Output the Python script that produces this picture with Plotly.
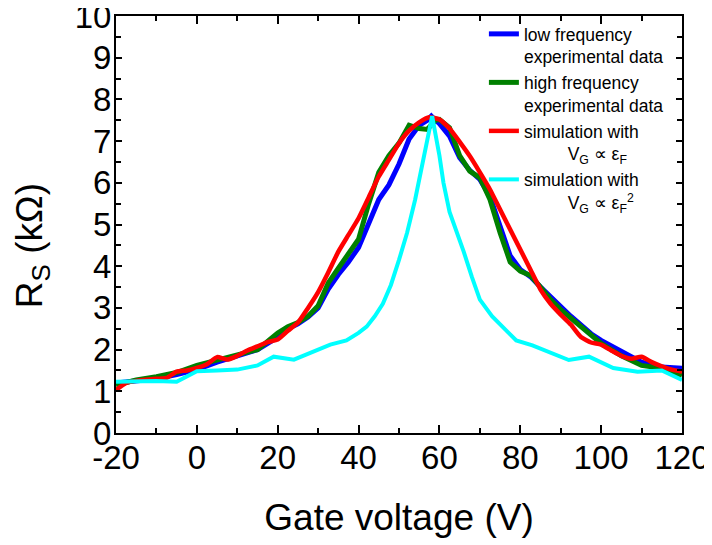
import plotly.graph_objects as go

# experimental data (low / high frequency), gate voltage in V, Rs in kOhm
v_exp = [-20, -15, -10, -5, 0, 5, 10, 15, 20, 22.5, 25, 27.5, 30, 32.5, 35,
         37.5, 40, 42.5, 45, 47.5, 50, 52.5, 55, 57, 58, 59, 60, 62.5, 65,
         67.5, 70, 72.5, 75, 77.5, 80, 82.5, 85, 87.5, 90, 92.5, 95, 97.5,
         100, 105, 110, 115, 120]
rs_low = [1.2, 1.25, 1.3, 1.4, 1.52, 1.7, 1.85, 2.0, 2.3, 2.5, 2.62, 2.78,
          3.0, 3.45, 3.8, 4.1, 4.45, 5.0, 5.6, 5.95, 6.45, 7.05, 7.38, 7.5,
          7.6, 7.5, 7.42, 7.12, 6.6, 6.3, 6.08, 5.67, 4.95, 4.25, 3.92, 3.75,
          3.5, 3.25, 3.03, 2.8, 2.6, 2.38, 2.22, 1.95, 1.7, 1.58, 1.55]
rs_high = [1.15, 1.27, 1.35, 1.45, 1.62, 1.75, 1.88, 2.0, 2.4, 2.55, 2.65,
           2.8, 3.05, 3.6, 3.95, 4.3, 4.65, 5.5, 6.25, 6.65, 6.95, 7.38, 7.3,
           7.28, 7.4, 7.5, 7.52, 7.32, 6.65, 6.28, 6.12, 5.6, 4.8, 4.1, 3.88,
           3.78, 3.5, 3.2, 2.96, 2.75, 2.55, 2.33, 2.15, 1.85, 1.62, 1.55, 1.38]

# simulation, V_G proportional to eps_F
v_sim1 = [-20, -17.5, -15, -10, -7.5, -5, -2.5, 0, 2.5, 5, 7.5, 10, 12.5, 15,
          17.5, 20, 22.5, 25, 27.5, 30, 32.5, 35, 37.5, 40, 42.5, 45, 47.5,
          50, 52.5, 55, 57.5, 60, 62.5, 65, 67.5, 70, 72.5, 75, 77.5, 80,
          82.5, 85, 87.5, 90, 92.5, 95, 97.5, 100, 102.5, 105, 107.5, 110,
          112.5, 115, 117.5, 120]
rs_sim1 = [1.03, 1.2, 1.25, 1.3, 1.32, 1.47, 1.5, 1.56, 1.65, 1.82, 1.76,
           1.85, 1.98, 2.08, 2.18, 2.24, 2.45, 2.65, 3.0, 3.38, 3.85, 4.35,
           4.75, 5.15, 5.65, 6.15, 6.55, 6.95, 7.25, 7.45, 7.57, 7.52, 7.3,
           6.98, 6.64, 6.25, 5.84, 5.36, 4.88, 4.4, 3.92, 3.44, 3.1, 2.84,
           2.6, 2.3, 2.17, 2.12, 1.98, 1.85, 1.78, 1.83, 1.7, 1.6, 1.52, 1.47]

# simulation, V_G proportional to eps_F^2
v_sim2 = [-20, -15, -10, -5, 0, 5, 10, 15, 19, 24, 28.5, 33, 37, 40, 42, 44,
          46, 48, 50, 52, 54, 56, 58.2, 60, 61, 62.5, 64, 66, 68, 70, 73, 76,
          79, 83, 87, 92, 97, 103, 109, 115, 120]
rs_sim2 = [1.23, 1.25, 1.25, 1.23, 1.48, 1.5, 1.52, 1.62, 1.83, 1.76, 1.95,
           2.12, 2.22, 2.4, 2.55, 2.8, 3.1, 3.55, 4.15, 4.8, 5.6, 6.6, 7.6,
           6.65, 6.0, 5.3, 4.9, 4.35, 3.75, 3.2, 2.8, 2.5, 2.22, 2.1, 1.95,
           1.75, 1.83, 1.56, 1.47, 1.5, 1.27]

x_ticks = [-20, 0, 20, 40, 60, 80, 100, 120]
x_ticktext = ['-20', '0', '20', '40', '60', '80', '100', '120']

FONT = 'Liberation Sans, Arial, sans-serif'
ind = '\u00a0' * 9

fig = go.Figure()
fig.add_trace(go.Scatter(x=v_exp, y=rs_low, mode='lines',
                         name='low frequency<br>experimental data',
                         line=dict(color='#0000ff', width=5)))
fig.add_trace(go.Scatter(x=v_exp, y=rs_high, mode='lines',
                         name='high frequency<br>experimental data',
                         line=dict(color='#008000', width=5)))
fig.add_trace(go.Scatter(x=v_sim1, y=rs_sim1, mode='lines',
                         name='simulation with<br>' + ind + 'V<sub>G</sub> \u221d \u03b5<sub>F</sub>',
                         line=dict(color='#ff0000', width=4.5, shape='spline', smoothing=0.5)))
fig.add_trace(go.Scatter(x=v_sim2, y=rs_sim2, mode='lines',
                         name='simulation with<br>' + ind + 'V<sub>G</sub> \u221d \u03b5<sub>F</sub><sup>2</sup>',
                         line=dict(color='#00ffff', width=4)))

axis_common = dict(showline=True, linecolor='black', linewidth=2,
                   mirror='ticks', ticks='inside', tickcolor='black',
                   tickwidth=2, showgrid=False, zeroline=False,
                   ticklabeloverflow='allow', automargin=False,
                   tickfont=dict(family=FONT, size=33, color='black'))

fig.update_xaxes(range=[-20, 120], tickvals=x_ticks, ticktext=x_ticktext,
                 ticklen=8, ticklabelstandoff=-6,
                 minor=dict(dtick=10, tick0=0, ticks='inside', ticklen=5,
                            tickcolor='black', tickwidth=2),
                 title=dict(text='Gate voltage (V)', standoff=30,
                            font=dict(family=FONT, size=37, color='black')),
                 **axis_common)
fig.update_yaxes(range=[0, 10], dtick=1, ticklen=6, ticklabelstandoff=-4,
                 minor=dict(dtick=0.5, ticks='inside', ticklen=5,
                            tickcolor='black', tickwidth=2),
                 **axis_common)

# y title sits a bit below the middle of the axis in the original
fig.add_annotation(text='R<sub>S</sub> (k\u03a9)', textangle=-90,
                   xref='paper', yref='paper', x=-0.147, y=0.45,
                   xanchor='center', yanchor='middle', showarrow=False,
                   font=dict(family=FONT, size=37, color='black'))

# the page adds an 8px body margin, so the plot box is shifted by that amount
fig.update_layout(
    width=712, height=545,
    margin=dict(l=108, r=38, t=8, b=120, autoexpand=False),
    plot_bgcolor='white', paper_bgcolor='white',
    font=dict(family=FONT, color='black'),
    legend=dict(x=0.65, y=1.0, xanchor='left', yanchor='top',
                bgcolor='rgba(0,0,0,0)', valign='top', itemwidth=30,
                font=dict(family=FONT, size=17.5, color='black'),
                tracegroupgap=0),
)

fig.write_html("out.html")
